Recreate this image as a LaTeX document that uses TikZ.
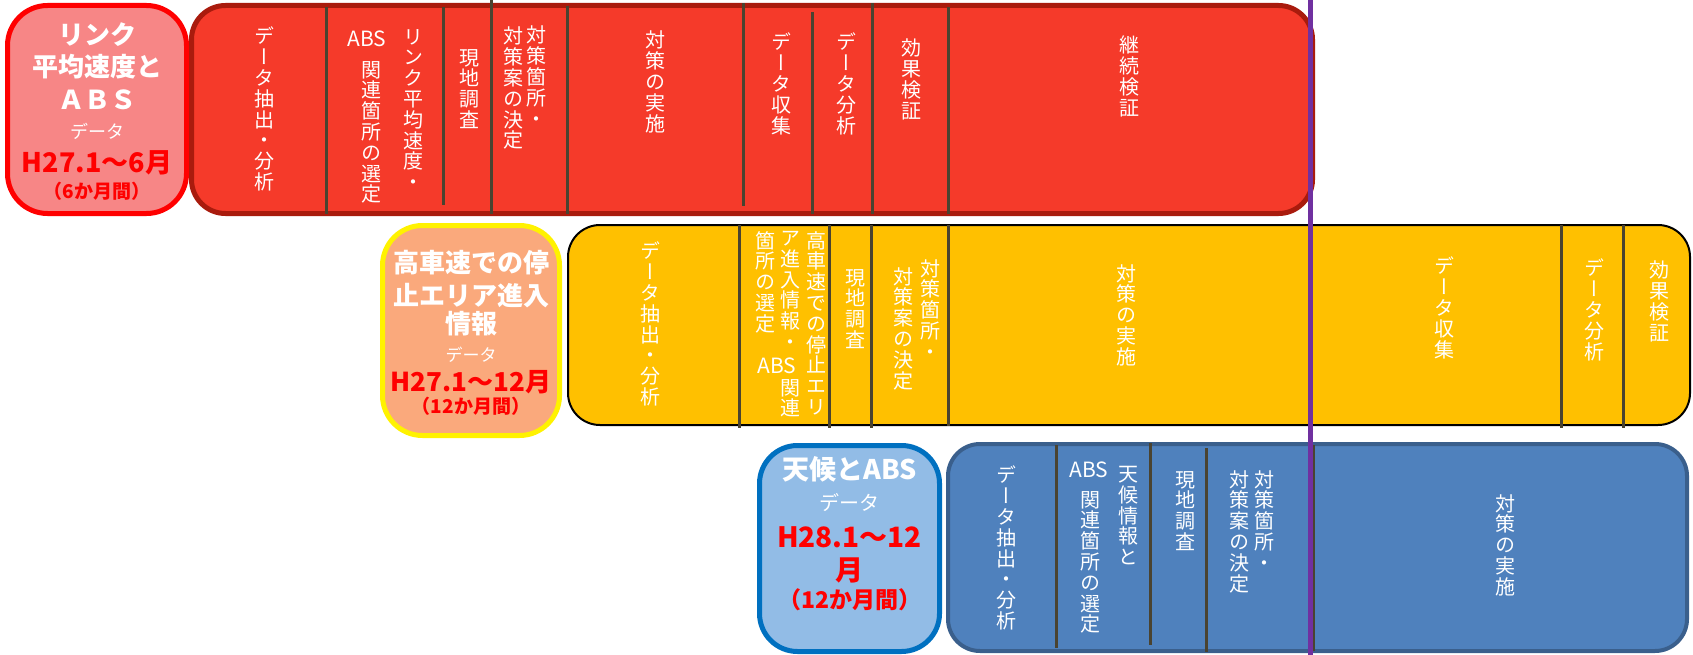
\documentclass[tikz,border=0pt]{standalone}
\usepackage{fontspec}
\newfontfamily\jp{Noto Sans CJK JP}
\newfontfamily\jpv[RawFeature=+vert]{Noto Sans CJK JP}
\makeatletter
\def\vst#1{\vst@a#1\vst@end}
\def\vst@a#1#2\vst@end{#1\ifx\relax#2\relax\else\\\vst@a#2\vst@end\fi}
\makeatother
\definecolor{redfill}{HTML}{F53A2A}
\definecolor{redline}{HTML}{A91B0D}
\definecolor{box1fill}{HTML}{F78686}
\definecolor{box2fill}{HTML}{FAA97C}
\definecolor{box3fill}{HTML}{92BCE6}
\definecolor{orfill}{HTML}{FFC000}
\definecolor{bluefill}{HTML}{4F81BD}
\definecolor{blueline}{HTML}{3A5F8C}
\definecolor{box3line}{HTML}{0070C0}
\definecolor{divcol}{HTML}{4A4330}
\definecolor{purp}{HTML}{7030A0}
\definecolor{datered}{HTML}{FF0000}
\begin{document}
\begin{tikzpicture}[x=1pt,y=-1pt,
  vcol/.style={font={\jpv\fontsize{20}{20.8}\selectfont}, text=white, align=center, inner sep=0pt, anchor=north},
  hlab/.style={font={\jp\fontsize{21}{22}\selectfont}, text=white, inner sep=0pt},
  btitle/.style={font={\jp\bfseries\fontsize{26}{28}\selectfont}, text=white, inner sep=0pt},
  bdata/.style={font={\jp\fontsize{18}{20}\selectfont}, text=white, inner sep=0pt},
  bdate/.style={font={\jp\bfseries\fontsize{27}{30}\selectfont}, text=datered, inner sep=0pt},
  bper/.style={font={\jp\bfseries\fontsize{19}{21}\selectfont}, text=datered, inner sep=0pt},
  divider/.style={draw=divcol, line width=3pt},
  bar/.style={rectangle, rounded corners=34pt, inner sep=0pt},
]
\useasboundingbox (0,0) rectangle (1693,655);

% ---------- Row 1 ----------
\node[bar, draw=redline, fill=redfill, line width=5pt, minimum width=1121pt, minimum height=208pt] (bar1) at (752,109.5) {};
\node[bar, draw=datered, fill=box1fill, line width=5pt, rounded corners=40pt, minimum width=179pt, minimum height=208pt] (box1) at (97,109.5) {};

\draw[divider] (326,7) -- (326,214);
\draw[divider] (443,7) -- (443,205);
\draw[divider] (491,0) -- (491,214);
\draw[divider] (567,6) -- (567,214);
\draw[divider] (743,3) -- (743,206);
\draw[divider] (812,12) -- (812,214);
\draw[divider] (872,3) -- (872,214);
\draw[divider] (948,7) -- (948,214);

\node[btitle] (b1t1) at (97,35) {リンク};
\node[btitle] (b1t2) at (97,67) {平均速度と};
\node[btitle] (b1t3) at (97,100) {ＡＢＳ};
\node[bdata] (b1d) at (97,131) {データ};
\node[bdate] (b1date) at (97,163) {H27.1～6月};
\node[bper] (b1per) at (97,191) {（6か月間）};

\node[vcol] (r1a) at (264,27) {\vst{データ抽出・分析}};
\node[hlab] (r1abs) at (367,39) {ABS};
\node[vcol] (r1bl) at (371,61) {\vst{関連箇所の選定}};
\node[vcol] (r1br) at (413,29) {\vst{リンク平均速度・}};
\node[vcol] (r1c) at (469,49) {\vst{現地調査}};
\node[vcol] (r1dr) at (536,26) {\vst{対策箇所・}};
\node[vcol] (r1dl) at (513,27) {\vst{対策案の決定}};
\node[vcol] (r1e) at (655,31) {\vst{対策の実施}};
\node[vcol] (r1f) at (781,33) {\vst{データ収集}};
\node[vcol] (r1g) at (846,33) {\vst{データ分析}};
\node[vcol] (r1h) at (911,39) {\vst{効果検証}};
\node[vcol] (r1i) at (1129,36) {\vst{継続検証}};

% ---------- Row 2 ----------
\node[bar, draw=black, fill=orfill, line width=2pt, rounded corners=32pt, minimum width=1122pt, minimum height=200pt] (bar2) at (1129,325) {};
\node[bar, draw=yellow, fill=box2fill, line width=5pt, rounded corners=40pt, minimum width=177pt, minimum height=210pt] (box2) at (471,330.5) {};

\draw[divider] (739,225) -- (739,428);
\draw[divider] (829,225) -- (829,428);
\draw[divider] (871,225) -- (871,428);
\draw[divider] (948,225) -- (948,426);
\draw[divider] (1561,225) -- (1561,428);
\draw[divider] (1623,225) -- (1623,428);

\node[btitle] (b2t1) at (471,263) {高車速での停};
\node[btitle] (b2t2) at (471,296) {止エリア進入};
\node[btitle] (b2t3) at (471,324) {情報};
\node[bdata, font={\jp\fontsize{17}{19}\selectfont}] (b2d) at (471,355) {データ};
\node[bdate, font={\jp\bfseries\fontsize{26}{28}\selectfont}] (b2date) at (471,382) {H27.1～12月};
\node[bper] (b2per) at (471,406) {（12か月間）};

\node[vcol] (r2a) at (650,242) {\vst{データ抽出・分析}};
\node[vcol] (r2br) at (816,231) {\vst{高車速での停止エリ}};
\node[vcol] (r2bm) at (790,231) {\vst{ア進入情報・}};
\node[hlab] (r2abs) at (777,366) {ABS};
\node[vcol] (r2bm2) at (790,379) {\vst{関連}};
\node[vcol] (r2bl) at (765,231) {\vst{箇所の選定}};
\node[vcol] (r2c) at (855,269) {\vst{現地調査}};
\node[vcol] (r2dr) at (930,259) {\vst{対策箇所・}};
\node[vcol] (r2dl) at (903,267) {\vst{対策案の決定}};
\node[vcol] (r2e) at (1126,264) {\vst{対策の実施}};
\node[vcol] (r2f) at (1444,257) {\vst{データ収集}};
\node[vcol] (r2g) at (1594,259) {\vst{データ分析}};
\node[vcol] (r2h) at (1659,261) {\vst{効果検証}};

% ---------- Row 3 ----------
\node[bar, draw=blueline, fill=bluefill, line width=4pt, rounded corners=32pt, minimum width=739pt, minimum height=207pt] (bar3) at (1317.5,547.5) {};
\node[bar, draw=box3line, fill=box3fill, line width=5pt, rounded corners=38pt, minimum width=180pt, minimum height=206pt] (box3) at (849.5,548.5) {};

\draw[divider] (1056,445) -- (1056,648);
\draw[divider] (1150,443) -- (1150,645);
\draw[divider] (1206,448) -- (1206,652);
\draw[divider] (1313,445) -- (1313,651);

\node[btitle, font={\jp\bfseries\fontsize{27}{29}\selectfont}] (b3t1) at (849.5,469) {天候とABS};
\node[bdata, font={\jp\fontsize{20}{22}\selectfont}] (b3d) at (849.5,503) {データ};
\node[bdate, font={\jp\bfseries\fontsize{28}{30}\selectfont}] (b3date) at (849.5,537) {H28.1～12};
\node[bdate, font={\jp\bfseries\fontsize{28}{30}\selectfont}] (b3mon) at (849.5,570) {月};
\node[bper, font={\jp\bfseries\fontsize{23}{25}\selectfont}] (b3per) at (849.5,600) {（12か月間）};

\node[vcol] (r3a) at (1006,466) {\vst{データ抽出・分析}};
\node[hlab] (r3abs) at (1089,470) {ABS};
\node[vcol] (r3bl) at (1090,491) {\vst{関連箇所の選定}};
\node[vcol] (r3br) at (1128,466) {\vst{天候情報と}};
\node[vcol] (r3c) at (1185,471) {\vst{現地調査}};
\node[vcol] (r3dr) at (1264,470) {\vst{対策箇所・}};
\node[vcol] (r3dl) at (1239,470) {\vst{対策案の決定}};
\node[vcol] (r3e) at (1505,494) {\vst{対策の実施}};

% ---------- Purple line ----------
\draw[draw=purp, line width=5pt] (1310,0) -- (1310,655);
\end{tikzpicture}
\end{document}
